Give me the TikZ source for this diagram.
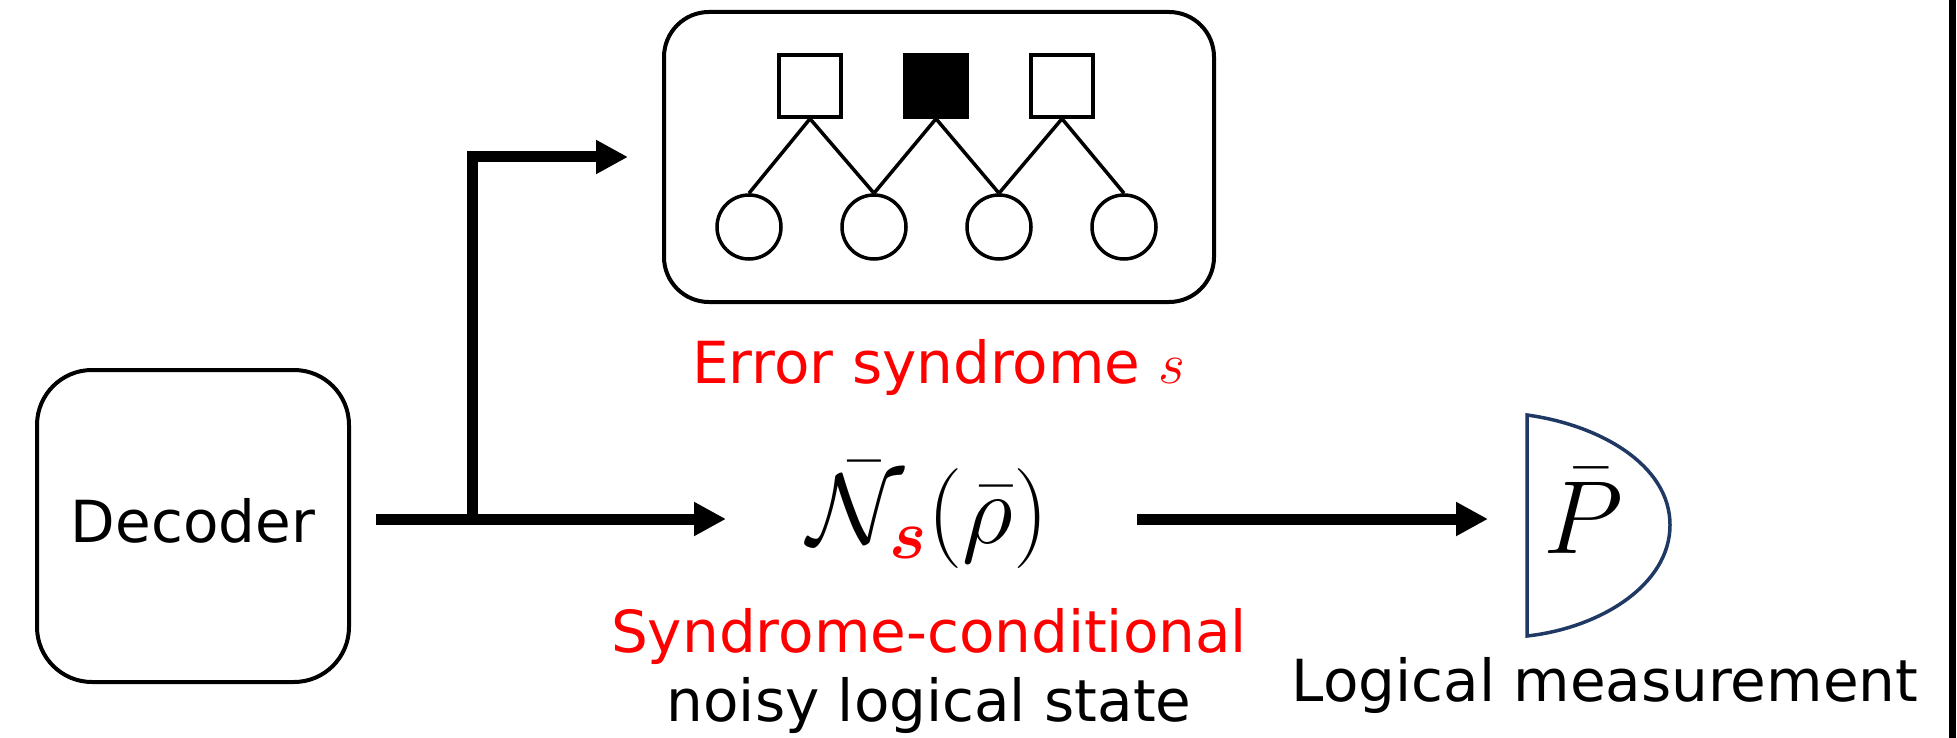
\RequirePackage{fix-cm}
\documentclass[tikz,border=0pt]{standalone}
\usepackage{amsmath,amssymb,bm}
\usepackage{fontspec}
\setmainfont{DejaVu Sans}
\usepackage{xcolor}
\usepackage{tikz}
\usetikzlibrary{positioning,arrows.meta}
\definecolor{synred}{RGB}{255,0,0}
\definecolor{detblue}{RGB}{31,56,100}

\tikzset{
  box/.style={draw, line width=4pt},
  chk/.style={draw, line width=3.5pt, minimum size=62pt, inner sep=0pt},
  qb/.style={draw, circle, line width=3.5pt, minimum size=64pt, inner sep=0pt},
  edge/.style={line width=3.5pt},
  flow/.style={line width=11pt, -{Triangle[length=32pt,width=32pt]}},
  lbl/.style={font=\fontsize{58}{67}\selectfont, inner sep=0pt},
  bigmath/.style={font=\fontsize{100}{110}\selectfont, inner sep=0pt}
}

\begin{document}
\begin{tikzpicture}[x=1pt,y=-1pt]
        \useasboundingbox (0,0) rectangle (1957,738);
        \node[box, lbl, rounded corners=55pt, minimum width=312pt, minimum height=312pt, text depth=12pt] (dec) at (193,526) {Decoder};
        % syndrome graph
        \node[box, rounded corners=45pt, minimum width=550pt, minimum height=290pt] (synbox) at (939,157) {};
        \foreach \i/\x/\c in {1/810/white,2/936/black,3/1062/white}
          \node[chk, fill=\c] (chk\i) at (\x,86) {};
        \foreach \i/\x in {1/749,2/874,3/999,4/1124}
          \node[qb] (q\i) at (\x,227) {};
        \foreach \a/\b in {1/1,1/2,2/2,2/3,3/3,3/4}
          \draw[edge] (chk\a.south) -- (q\b.north);
        \node[lbl, anchor=base, text=synred] (synlbl) at (939,383) {Error syndrome $s$};
        % channel and measurement
        \node[bigmath, anchor=base] (chan) at (928,543) {$\bar{\mathcal{N}}_{\textcolor{synred}{\bm{s}}}(\bar{\rho})$};
        \node[lbl, anchor=base, text=synred] (cond1) at (929,652) {Syndrome-conditional};
        \node[lbl, anchor=base] (cond2) at ([yshift=-69pt]cond1.base) {noisy logical state};
        \draw[detblue, line width=3.5pt] (1527,415) .. controls (1600,425) and (1670,465) .. (1670,525)
          .. controls (1670,585) and (1600,628) .. (1527,636) -- cycle;
        \node[bigmath, anchor=base, font=\fontsize{104}{110}\selectfont] (meas) at (1583,553) {$\bar{P}$};
        \node[lbl, anchor=base] (measlbl) at (1605,701) {Logical measurement};
        % arrows
        \coordinate (fork) at (472,519);
        \coordinate (chanin) at (726,519);
        \coordinate (chanout) at (1137,519);
        \coordinate (detin) at (1527,519);
        \draw[flow, shorten <=25pt] (dec.east |- fork) -- (chanin);
        \draw[flow, shorten >=34pt] (fork) |- (synbox.west);
        \draw[flow, shorten >=39pt] (chanout) -- (detin);
        \fill (1949,0) rectangle (1956,738);
      \end{tikzpicture}
\end{document}
